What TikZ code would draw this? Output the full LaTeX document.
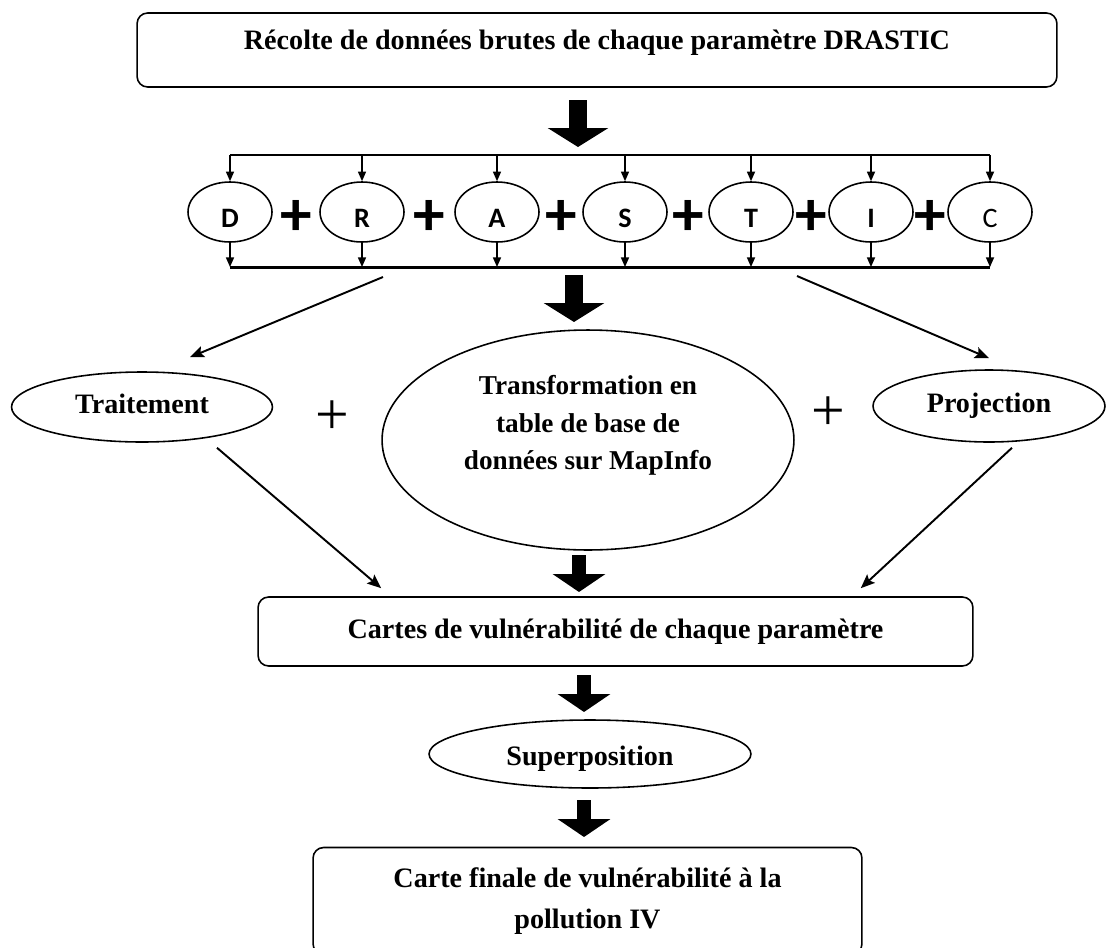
\documentclass[tikz,border=0pt]{standalone}
\usepackage{fontspec}
\setmainfont{Liberation Serif}
\newfontfamily\calibri{Carlito}
\usetikzlibrary{shapes.geometric, arrows.meta, positioning, calc}
\tikzset{
  % Box styles
  stagebox/.style={rectangle, rounded corners=6pt, draw, line width=0.9pt, font=\fontsize{16}{21}\selectfont\bfseries, align=center, inner sep=0pt},
  ovalnode/.style={ellipse, draw, line width=0.9pt, font=\fontsize{16}{21}\selectfont\bfseries, align=center, inner sep=0pt},
  paramnode/.style={ellipse, draw, line width=0.9pt, minimum width=1.68cm, minimum height=1.2cm, font=\calibri\fontsize{16}{18}\selectfont\bfseries, text height=18pt, text depth=0pt, inner sep=0pt},
  % Plus signs
  bigplus/.style={font=\calibri\fontsize{36}{36}\selectfont\bfseries, inner sep=0pt, yshift=-0.12cm},
  thinplus/.style={font=\fontsize{34}{34}\selectfont, inner sep=0pt},
  % Arrow styles
  busline/.style={line width=1.7pt},
  smallarrow/.style={-{Triangle[width=4.6pt,length=5.5pt]}, line width=0.8pt},
  arrow/.style={-{Stealth[width=6.5pt,length=8pt,inset=1.5pt]}, line width=1.1pt},
  bigarrow/.style={-{Triangle[width=34pt,length=10.8pt]}, line width=10.8pt},
  midarrow/.style={-{Triangle[width=29.5pt,length=10.2pt]}, line width=8pt}
}

\begin{document}
\begin{tikzpicture}[x=0.02cm, y=-0.02cm]
  \useasboundingbox (0,0) rectangle (1109,947);

  % Raw data
  \node[stagebox, minimum width=18.4cm, minimum height=1.48cm, text height=11pt, text depth=11.4pt] (recolte) at (597,50) {Récolte de données brutes de chaque paramètre DRASTIC};

  % DRASTIC parameters
  \node[paramnode] (parD) at (230,212) {D};
  \node[paramnode] (parR) at (362,212) {R};
  \node[paramnode] (parA) at (497,212) {A};
  \node[paramnode] (parS) at (625,212) {S};
  \node[paramnode] (parT) at (751,212) {T};
  \node[paramnode] (parI) at (871,212) {I};
  \node[paramnode, font=\calibri\fontsize{16}{18}\selectfont] (parC) at (990,212) {C};

  \node[bigplus] (plus1) at ($(parD.east)!0.5!(parR.west)$) {+};
  \node[bigplus] (plus2) at ($(parR.east)!0.5!(parA.west)$) {+};
  \node[bigplus] (plus3) at ($(parA.east)!0.5!(parS.west)$) {+};
  \node[bigplus] (plus4) at ($(parS.east)!0.5!(parT.west)$) {+};
  \node[bigplus] (plus5) at ($(parT.east)!0.5!(parI.west)$) {+};
  \node[bigplus] (plus6) at ($(parI.east)!0.5!(parC.west)$) {+};

  % Processing
  \node[ovalnode, minimum width=5.22cm, minimum height=1.4cm, text height=11pt, text depth=3.5pt] (trait) at (142,407) {Traitement};
  \node[ovalnode, minimum width=8.24cm, minimum height=4.4cm, font=\fontsize{15.5}{21.5}\selectfont\bfseries, text depth=20pt] (transfo) at (588,440) {Transformation en\\table de base de\\données sur MapInfo};
  \node[ovalnode, minimum width=4.64cm, minimum height=1.44cm, text height=11pt, text depth=3.5pt] (proj) at (989,406) {Projection};
  \node[thinplus] (plus7) at (332,418) {+};
  \node[thinplus] (plus8) at (828,414) {+};

  % Maps
  \node[stagebox, minimum width=14.3cm, minimum height=1.38cm] (cartes) at (615.5,631.5) {Cartes de vulnérabilité de chaque paramètre};
  \node[ovalnode, minimum width=6.44cm, minimum height=1.36cm, text height=13pt, text depth=0pt] (superpos) at (590,754) {Superposition};
  \node[stagebox, minimum width=10.98cm, minimum height=2.14cm, font=\fontsize{16}{23.5}\selectfont\bfseries] (finale) at (587.5,901) {Carte finale de vulnérabilité à la\\pollution IV};

  % Connector ends
  \coordinate (bustop) at (0,155);
  \coordinate (busbot) at (0,267);
  \coordinate (drop1a) at (578,100);
  \coordinate (drop1b) at (578,147);
  \coordinate (drop2a) at (574,275);
  \coordinate (drop2b) at (574,322);
  \coordinate (drop3a) at (579,555);
  \coordinate (drop3b) at (579,592);
  \coordinate (drop4a) at (584,675);
  \coordinate (drop4b) at (584,712);
  \coordinate (drop5a) at (584,800);
  \coordinate (drop5b) at (584,837);
  \coordinate (splitL) at (383,277);
  \coordinate (splitR) at (797,276);

  % Buses
  \foreach \p in {parD,parR,parA,parS,parT,parI,parC} {
    \draw[smallarrow] (\p |- bustop) -- (\p.north);
    \draw[smallarrow] (\p.south) -- (\p |- busbot);
  }
  \draw[busline] (parD |- bustop) -- (parC |- bustop);
  \draw[busline] (parD |- busbot) -- (parC |- busbot);

  \draw[bigarrow] (drop1a) -- (drop1b);
  \draw[bigarrow] (drop2a) -- (drop2b);
  \draw[midarrow] (drop3a) -- (drop3b);
  \draw[midarrow] (drop4a) -- (drop4b);
  \draw[midarrow] (drop5a) -- (drop5b);

  \draw[arrow] (splitL) -- ([xshift=0.96cm, yshift=0.28cm]trait.north);
  \draw[arrow] (splitR) -- ([yshift=0.22cm]proj.north);
  \draw[arrow] ([xshift=1.5cm, yshift=-0.1cm]trait.south) -- ([xshift=2.48cm, yshift=0.16cm]cartes.north west);
  \draw[arrow] ([xshift=0.46cm, yshift=-0.1cm]proj.south) -- ([xshift=-2.26cm, yshift=0.16cm]cartes.north east);
\end{tikzpicture}
\end{document}
